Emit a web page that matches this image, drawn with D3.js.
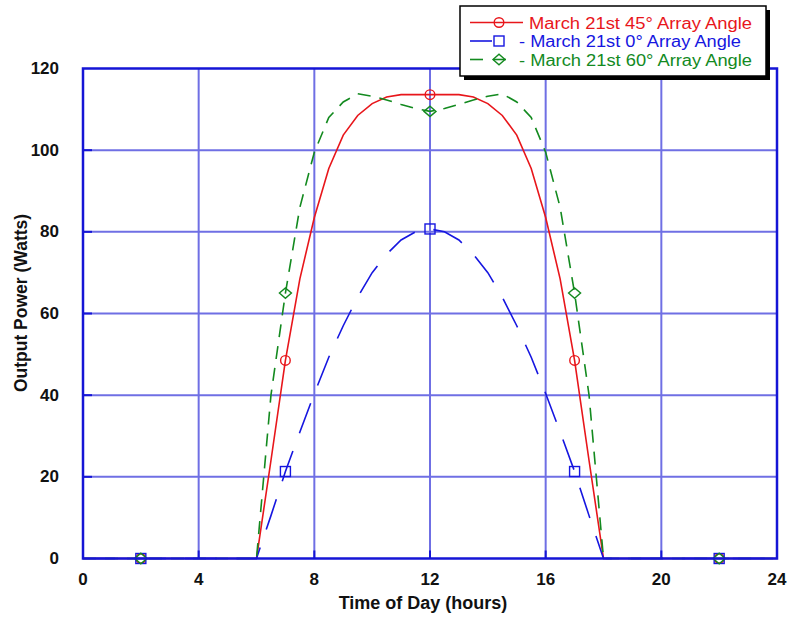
<!DOCTYPE html>
<html>
<head>
<meta charset="utf-8">
<script src="https://cdn.jsdelivr.net/npm/d3@7"></script>
<style>
  html, body { margin: 0; padding: 0; background: #fff; }
  svg { display: block; }
  text { font-family: "Liberation Sans", Arial, Helvetica, sans-serif; }
</style>
</head>
<body>
<svg id="chart" width="788" height="620"></svg>
<script>
// ---- data ----
const hours = [0,0.5,1,1.5,2,2.5,3,3.5,4,4.5,5,5.5,6,6.5,7,7.5,8,8.5,9,9.5,10,10.5,11,11.5,12,
               12.5,13,13.5,14,14.5,15,15.5,16,16.5,17,17.5,18,18.5,19,19.5,20,20.5,21,21.5,22,22.5,23,23.5,24];
const power45 = [0,0,0,0,0,0,0,0,0,0,0,0,0,24,48.5,68.5,83.5,95.5,103.7,108.5,111.4,113,113.6,113.6,113.6,
                 113.6,113.6,113,111.4,108.5,103.7,95.5,83.5,68.5,48.5,24,0,0,0,0,0,0,0,0,0,0,0,0,0];
const power0  = [0,0,0,0,0,0,0,0,0,0,0,0,0,10.5,21.3,31,40.4,49.3,57,64,70,74.5,78,80,80.7,
                 80,78,74.5,70,64,57,49.3,40.4,31,21.3,10.5,0,0,0,0,0,0,0,0,0,0,0,0,0];
const power60 = [0,0,0,0,0,0,0,0,0,0,0,0,0,40,65,86,99.5,108,111.8,113.8,113.2,112.3,111.2,110.2,109.5,
                 110.2,111.2,112.3,113.2,113.8,111.8,108,99.5,86,65,40,0,0,0,0,0,0,0,0,0,0,0,0,0];
const markerHours = [2,7,12,17,22];
const xTicks = [0,4,8,12,16,20,24];
const yTicks = [0,20,40,60,80,100,120];
const seriesNames = ["March 21st 45\u00B0 Array Angle", "- March 21st 0\u00B0 Array Angle", "- March 21st 60\u00B0 Array Angle"];
const xTitle = "Time of Day (hours)";
const yTitle = "Output Power (Watts)";

// ---- layout ----
const svg = d3.select("#chart");
const x = d3.scaleLinear().domain([0, 24]).range([83, 777]);
const y = d3.scaleLinear().domain([0, 120]).range([558.5, 68.5]);

const gridColor = "#6f6fe4";
const frameColor = "#1515d6";

// grid
const grid = svg.append("g");
grid.selectAll("line.vx").data(xTicks.slice(1, -1)).join("line")
  .attr("x1", d => x(d)).attr("x2", d => x(d))
  .attr("y1", y(0)).attr("y2", y(120))
  .attr("stroke", gridColor).attr("stroke-width", 2);
grid.selectAll("line.hy").data(yTicks.slice(1, -1)).join("line")
  .attr("x1", x(0)).attr("x2", x(24))
  .attr("y1", d => y(d)).attr("y2", d => y(d))
  .attr("stroke", gridColor).attr("stroke-width", 2);

// series
const series = [
  { vals: power45, color: "#e8161b", dash: null,     marker: "circle" },
  { vals: power0,  color: "#1616e0", dash: "32,19",  marker: "square" },
  { vals: power60, color: "#138a1f", dash: "13,9",   marker: "diamond" }
];

const line = d3.line().x(d => x(d[0])).y(d => y(d[1]));

function drawMarker(g, type, cx, cy, color) {
  if (type === "circle") {
    g.append("circle").attr("cx", cx).attr("cy", cy).attr("r", 4.8)
      .attr("fill", "none").attr("stroke", color).attr("stroke-width", 1.4);
  } else if (type === "square") {
    g.append("rect").attr("x", cx - 5).attr("y", cy - 5).attr("width", 10).attr("height", 10)
      .attr("fill", "none").attr("stroke", color).attr("stroke-width", 1.4);
  } else {
    g.append("path").attr("d", `M${cx - 6},${cy} L${cx},${cy - 5.2} L${cx + 6},${cy} L${cx},${cy + 5.2} Z`)
      .attr("fill", "none").attr("stroke", color).attr("stroke-width", 1.4);
  }
}

const plot = svg.append("g");
series.forEach(s => {
  const pts = hours.map((h, i) => [h, s.vals[i]]);
  plot.append("path").attr("d", line(pts))
    .attr("fill", "none").attr("stroke", s.color).attr("stroke-width", 1.6)
    .attr("stroke-dasharray", s.dash);
});
series.forEach(s => {
  markerHours.forEach(h => {
    const i = hours.indexOf(h);
    drawMarker(plot, s.marker, x(h), y(s.vals[i]), s.color);
  });
});

// frame
svg.append("rect")
  .attr("x", x(0)).attr("y", y(120))
  .attr("width", x(24) - x(0)).attr("height", y(0) - y(120))
  .attr("fill", "none").attr("stroke", frameColor).attr("stroke-width", 2.5);

// inward tick marks
svg.selectAll("line.xt").data(xTicks.slice(1, -1)).join("line")
  .attr("x1", d => x(d)).attr("x2", d => x(d))
  .attr("y1", y(0)).attr("y2", y(0) - 8)
  .attr("stroke", frameColor).attr("stroke-width", 2);
svg.selectAll("line.yt").data(yTicks.slice(1, -1)).join("line")
  .attr("x1", x(0)).attr("x2", x(0) + 9)
  .attr("y1", d => y(d)).attr("y2", d => y(d))
  .attr("stroke", frameColor).attr("stroke-width", 2);

// tick labels
svg.selectAll("text.xl").data(xTicks).join("text")
  .attr("x", d => x(d)).attr("y", 584.5)
  .attr("text-anchor", "middle").attr("font-size", 17).attr("font-weight", "bold")
  .attr("fill", "#111").text(d => d);
svg.selectAll("text.yl").data(yTicks).join("text")
  .attr("x", 59).attr("y", d => y(d) + 5.5)
  .attr("text-anchor", "end").attr("font-size", 17).attr("font-weight", "bold")
  .attr("fill", "#111").text(d => d);

// axis titles
svg.append("text").attr("x", 423).attr("y", 609)
  .attr("text-anchor", "middle").attr("font-size", 18).attr("font-weight", "bold")
  .attr("fill", "#111").text(xTitle);
svg.append("text").attr("transform", "translate(27,303) rotate(-90)")
  .attr("text-anchor", "middle").attr("font-size", 17.5).attr("font-weight", "bold")
  .attr("fill", "#111").text(yTitle);

// legend
const lg = svg.append("g");
lg.append("rect").attr("x", 464).attr("y", 10).attr("width", 306).attr("height", 70).attr("fill", "#000");
lg.append("rect").attr("x", 460).attr("y", 6).attr("width", 306).attr("height", 70)
  .attr("fill", "#fff").attr("stroke", "#000").attr("stroke-width", 1.5);

const rowsY = [22.5, 41, 59.5];
const textX = [529, 519, 519];
const textW = [223, 222, 233];
// red sample
lg.append("line").attr("x1", 470).attr("x2", 523).attr("y1", rowsY[0]).attr("y2", rowsY[0])
  .attr("stroke", series[0].color).attr("stroke-width", 1.6);
// blue sample
lg.append("line").attr("x1", 470).attr("x2", 492).attr("y1", rowsY[1]).attr("y2", rowsY[1])
  .attr("stroke", series[1].color).attr("stroke-width", 1.6);
// green sample
lg.append("line").attr("x1", 470).attr("x2", 483).attr("y1", rowsY[2]).attr("y2", rowsY[2])
  .attr("stroke", series[2].color).attr("stroke-width", 1.6);
lg.append("line").attr("x1", 493).attr("x2", 506).attr("y1", rowsY[2]).attr("y2", rowsY[2])
  .attr("stroke", series[2].color).attr("stroke-width", 1.6);
series.forEach((s, i) => {
  drawMarker(lg, s.marker, 499, rowsY[i], s.color);
  lg.append("text").attr("x", textX[i]).attr("y", rowsY[i] + 6)
    .attr("font-size", 15.8).attr("fill", s.color)
    .attr("textLength", textW[i]).attr("lengthAdjust", "spacingAndGlyphs")
    .text(seriesNames[i]);
});
</script>
</body>
</html>
